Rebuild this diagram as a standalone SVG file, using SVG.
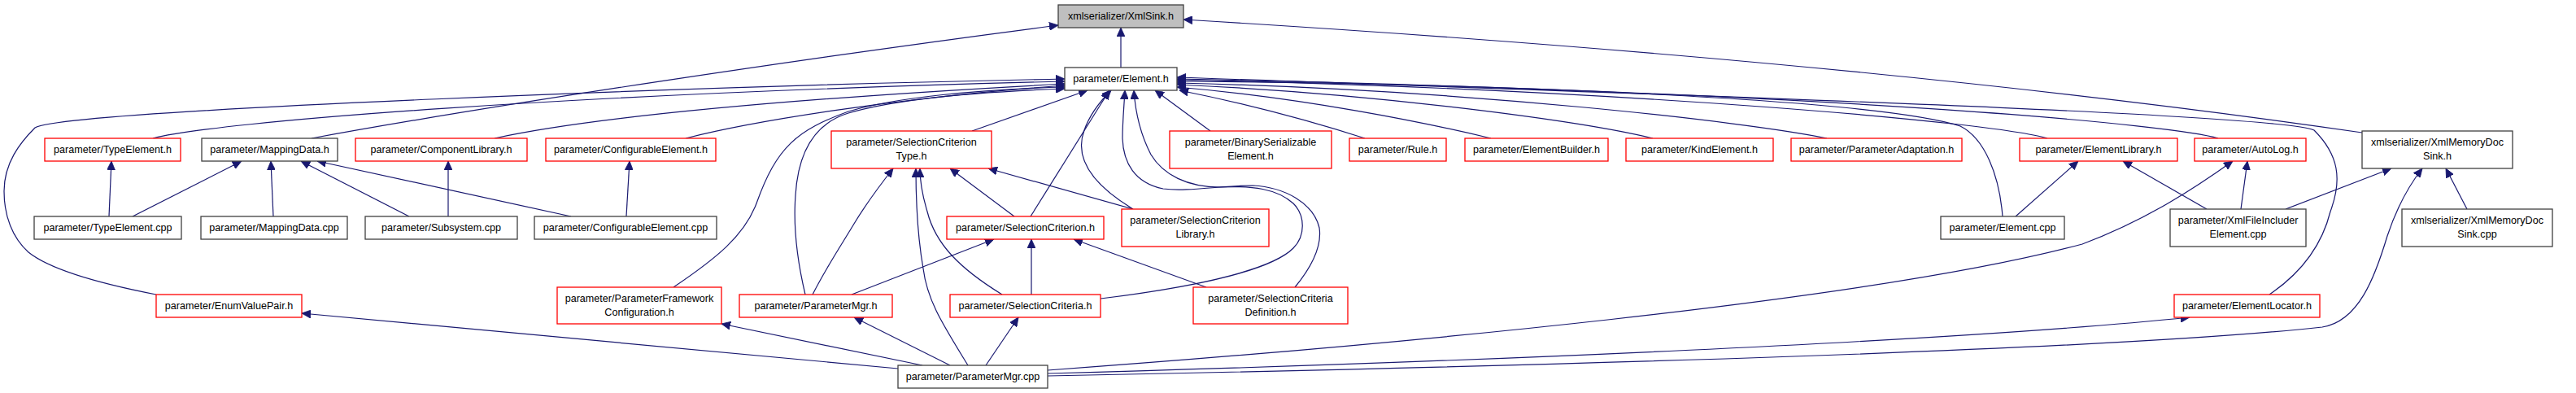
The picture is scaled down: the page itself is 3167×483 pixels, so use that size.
<svg xmlns="http://www.w3.org/2000/svg" width="3167" height="483" viewBox="0 0 3167 483">
<style>
.n rect{fill:#fff;stroke:#404040;stroke-width:1.3}
.n.r rect{stroke:#ff0000}
.n.root rect{fill:#bfbfbf}
.n text{font-family:"Liberation Sans",Arial,sans-serif;font-size:12.6px;fill:#000;text-anchor:middle}
#edges path{fill:none;stroke:#191970;stroke-width:1.2;marker-end:url(#ah)}
</style>
<defs>
<marker id="ah" markerUnits="userSpaceOnUse" markerWidth="11" markerHeight="10" refX="11" refY="5" orient="auto" viewBox="0 0 11 10">
<path d="M0,0 L11,5 L0,10 z" fill="#191970" stroke="#191970" stroke-width="0.8"/>
</marker>
</defs>
<rect width="3167" height="483" fill="#fff"/>
<g id="edges">
<path d="M383,170 C600,130 1000,70 1301,31"/>
<path d="M1378,83 L1378,34"/>
<path d="M2904,163 Q2300,75 1455,24"/>
<path d="M192,362 C120,348 60,330 35,310 C15,292 5,265 5,235 C5,200 25,175 43,157 C80,135 900,105 1309,97"/>
<path d="M188,170 C260,150 700,115 1309,100"/>
<path d="M608,170 C700,150 900,125 1309,103"/>
<path d="M843,170 C920,150 1100,120 1309,105"/>
<path d="M828,353 C880,318 915,290 930,250 C955,180 980,160 1043,137 C1100,120 1200,110 1309,107"/>
<path d="M990,362 C980,320 975,280 978,240 C981,190 1000,152 1043,139 C1100,122 1200,113 1309,109"/>
<path d="M999,362 C1015,330 1035,300 1050,275 C1065,250 1080,230 1098,207"/>
<path d="M1195,161 L1337,111"/>
<path d="M1267,266 L1364,111"/>
<path d="M1393,257 C1345,228 1320,195 1333,160 C1340,140 1352,125 1366,111"/>
<path d="M1592,353 C1615,325 1625,300 1622,280 C1615,250 1580,230 1540,228 C1500,228 1460,236 1430,232 C1395,225 1381,200 1380,170 C1380,150 1382,130 1383,111"/>
<path d="M1353,367 C1450,355 1560,335 1590,305 C1605,290 1605,265 1590,250 C1570,232 1540,228 1500,230 C1460,230 1430,215 1415,190 C1402,165 1396,140 1394,111"/>
<path d="M1488,161 L1420,111"/>
<path d="M1678,170 C1600,145 1520,125 1450,111"/>
<path d="M1833,170 C1750,150 1600,120 1447,107"/>
<path d="M2032,170 C1950,150 1700,115 1447,104"/>
<path d="M2246,170 C2150,150 1800,110 1447,102"/>
<path d="M2462,266 C2458,215 2440,170 2410,155 C2300,120 1800,102 1447,100"/>
<path d="M2517,170 C2450,150 2000,110 1447,98"/>
<path d="M2727,170 C2680,155 2300,115 1447,97"/>
<path d="M2790,362 C2830,335 2855,300 2865,260 C2880,220 2875,190 2845,160 C2800,140 2100,118 1447,95"/>
<path d="M134,266 L137,198"/>
<path d="M163,266 L297,198"/>
<path d="M336,266 L333,198"/>
<path d="M503,266 L370,198"/>
<path d="M702,266 L390,198"/>
<path d="M551,266 L551,198"/>
<path d="M770,266 L774,198"/>
<path d="M1047,362 L1222,294"/>
<path d="M1247,266 L1168,207"/>
<path d="M1393,257 L1215,207"/>
<path d="M1232,362 C1180,330 1150,300 1140,260 C1134,240 1131,225 1131,207"/>
<path d="M1190,449 C1160,400 1140,370 1135,330 C1128,290 1126,250 1126,207"/>
<path d="M1168,449 L1050,390"/>
<path d="M1212,449 L1252,390"/>
<path d="M1268,362 L1268,294"/>
<path d="M1483,353 L1320,294"/>
<path d="M1134,449 L887,398"/>
<path d="M1104,453 L371,385"/>
<path d="M1288,455 C1700,425 2300,370 2560,300 C2640,270 2700,230 2745,198"/>
<path d="M1288,459 C1800,445 2400,420 2692,390"/>
<path d="M1288,462 C1900,450 2600,430 2855,402 C2900,395 2920,340 2935,290 C2945,260 2960,230 2978,207"/>
<path d="M2478,266 L2555,198"/>
<path d="M2713,257 L2610,198"/>
<path d="M2755,257 L2763,198"/>
<path d="M2810,257 L2940,207"/>
<path d="M3033,257 L3007,207"/>
</g>
<g id="n_xmlsink" class="n root"><rect x="1301" y="6" width="154" height="28"/><text x="1378" y="24">xmlserializer/XmlSink.h</text></g>
<g id="n_element_h" class="n"><rect x="1309" y="83" width="138" height="28"/><text x="1378" y="101">parameter/Element.h</text></g>
<g id="n_typeelement_h" class="n r"><rect x="55" y="170" width="167" height="28"/><text x="138.5" y="188">parameter/TypeElement.h</text></g>
<g id="n_mappingdata_h" class="n"><rect x="248" y="170" width="167" height="28"/><text x="331.5" y="188">parameter/MappingData.h</text></g>
<g id="n_componentlibrary_h" class="n r"><rect x="437" y="170" width="211" height="28"/><text x="542.5" y="188">parameter/ComponentLibrary.h</text></g>
<g id="n_configurableelement_h" class="n r"><rect x="671" y="170" width="209" height="28"/><text x="775.5" y="188">parameter/ConfigurableElement.h</text></g>
<g id="n_sctype_h" class="n r"><rect x="1022" y="161" width="197" height="46"/><text x="1120.5" y="179">parameter/SelectionCriterion</text><text x="1120.5" y="196">Type.h</text></g>
<g id="n_binser_h" class="n r"><rect x="1438" y="161" width="199" height="46"/><text x="1537.5" y="179">parameter/BinarySerializable</text><text x="1537.5" y="196">Element.h</text></g>
<g id="n_rule_h" class="n r"><rect x="1659" y="170" width="119" height="28"/><text x="1718.5" y="188">parameter/Rule.h</text></g>
<g id="n_elementbuilder_h" class="n r"><rect x="1801" y="170" width="176" height="28"/><text x="1889" y="188">parameter/ElementBuilder.h</text></g>
<g id="n_kindelement_h" class="n r"><rect x="1999" y="170" width="181" height="28"/><text x="2089.5" y="188">parameter/KindElement.h</text></g>
<g id="n_paramadaptation_h" class="n r"><rect x="2202" y="170" width="210" height="28"/><text x="2307" y="188">parameter/ParameterAdaptation.h</text></g>
<g id="n_elementlibrary_h" class="n r"><rect x="2483" y="170" width="194" height="28"/><text x="2580" y="188">parameter/ElementLibrary.h</text></g>
<g id="n_autolog_h" class="n r"><rect x="2698" y="170" width="137" height="28"/><text x="2766.5" y="188">parameter/AutoLog.h</text></g>
<g id="n_xmlmemdocsink_h" class="n"><rect x="2904" y="161" width="185" height="46"/><text x="2996.5" y="179">xmlserializer/XmlMemoryDoc</text><text x="2996.5" y="196">Sink.h</text></g>
<g id="n_typeelement_cpp" class="n"><rect x="42" y="266" width="181" height="28"/><text x="132.5" y="284">parameter/TypeElement.cpp</text></g>
<g id="n_mappingdata_cpp" class="n"><rect x="247" y="266" width="180" height="28"/><text x="337" y="284">parameter/MappingData.cpp</text></g>
<g id="n_subsystem_cpp" class="n"><rect x="449" y="266" width="187" height="28"/><text x="542.5" y="284">parameter/Subsystem.cpp</text></g>
<g id="n_configurableelement_cpp" class="n"><rect x="657" y="266" width="224" height="28"/><text x="769" y="284">parameter/ConfigurableElement.cpp</text></g>
<g id="n_selcriterion_h" class="n r"><rect x="1164" y="266" width="193" height="28"/><text x="1260.5" y="284">parameter/SelectionCriterion.h</text></g>
<g id="n_sclibrary_h" class="n r"><rect x="1379" y="257" width="181" height="46"/><text x="1469.5" y="275">parameter/SelectionCriterion</text><text x="1469.5" y="292">Library.h</text></g>
<g id="n_element_cpp" class="n"><rect x="2386" y="266" width="152" height="28"/><text x="2462" y="284">parameter/Element.cpp</text></g>
<g id="n_xmlfileincluder_cpp" class="n"><rect x="2668" y="257" width="167" height="46"/><text x="2751.5" y="275">parameter/XmlFileIncluder</text><text x="2751.5" y="292">Element.cpp</text></g>
<g id="n_xmlmemdocsink_cpp" class="n"><rect x="2953" y="257" width="185" height="46"/><text x="3045.5" y="275">xmlserializer/XmlMemoryDoc</text><text x="3045.5" y="292">Sink.cpp</text></g>
<g id="n_enumvaluepair_h" class="n r"><rect x="192" y="362" width="179" height="28"/><text x="281.5" y="380">parameter/EnumValuePair.h</text></g>
<g id="n_pfconfig_h" class="n r"><rect x="685" y="353" width="202" height="45"/><text x="786" y="371">parameter/ParameterFramework</text><text x="786" y="388">Configuration.h</text></g>
<g id="n_parametermgr_h" class="n r"><rect x="909" y="362" width="188" height="28"/><text x="1003" y="380">parameter/ParameterMgr.h</text></g>
<g id="n_selcriteria_h" class="n r"><rect x="1168" y="362" width="185" height="28"/><text x="1260.5" y="380">parameter/SelectionCriteria.h</text></g>
<g id="n_scdefinition_h" class="n r"><rect x="1467" y="353" width="190" height="45"/><text x="1562" y="371">parameter/SelectionCriteria</text><text x="1562" y="388">Definition.h</text></g>
<g id="n_elementlocator_h" class="n r"><rect x="2673" y="362" width="179" height="28"/><text x="2762.5" y="380">parameter/ElementLocator.h</text></g>
<g id="n_parametermgr_cpp" class="n"><rect x="1104" y="449" width="184" height="28"/><text x="1196" y="467">parameter/ParameterMgr.cpp</text></g>
</svg>
